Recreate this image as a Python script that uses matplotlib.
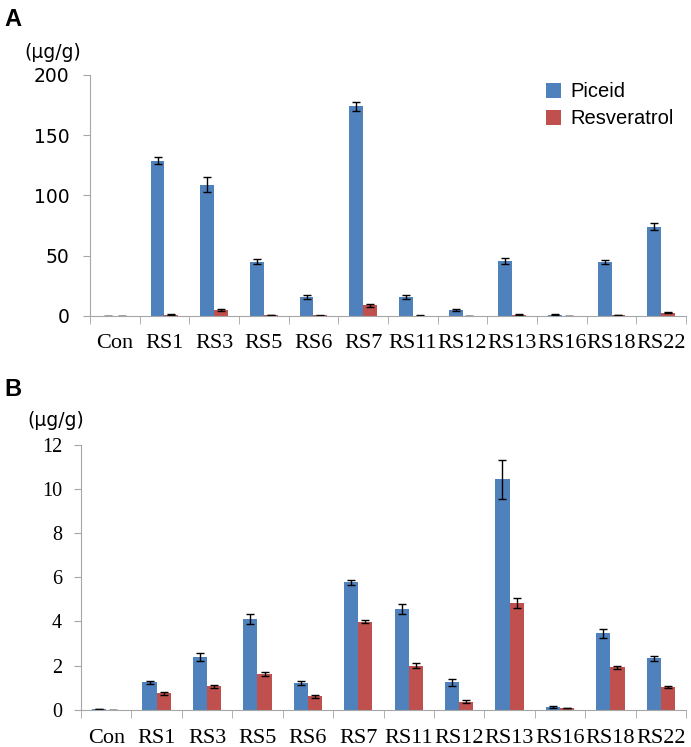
import numpy as np
import matplotlib
matplotlib.use("Agg")
import matplotlib.pyplot as plt

# categorieen
stammen = ["Con", "RS1", "RS3", "RS5", "RS6", "RS7", "RS11", "RS12", "RS13", "RS16", "RS18", "RS22"]

# paneel A
piceid_A = [0, 129, 109, 45, 16, 174, 16, 5, 45.6, 1.0, 44.8, 74]
piceid_A_err = [0, 3, 6, 2, 1.5, 4, 1.5, 0.7, 2.5, 0.3, 1.5, 3]
resv_A = [0, 1.2, 5, 0.7, 0.4, 8.8, 0.3, 0.2, 1.0, 0.1, 0.7, 2.6]
resv_A_err = [0, 0.3, 0.5, 0.2, 0.1, 1.0, 0.1, 0.1, 0.3, 0.05, 0.2, 0.4]

# paneel B
piceid_B = [0.02, 1.24, 2.37, 4.11, 1.2, 5.77, 4.55, 1.24, 10.44, 0.12, 3.46, 2.33]
piceid_B_err = [0, 0.07, 0.18, 0.23, 0.08, 0.12, 0.23, 0.15, 0.87, 0.03, 0.22, 0.12]
resv_B = [0.01, 0.74, 1.07, 1.62, 0.6, 3.99, 2.0, 0.36, 4.82, 0.08, 1.92, 1.03]
resv_B_err = [0, 0.05, 0.07, 0.1, 0.08, 0.07, 0.1, 0.07, 0.23, 0.02, 0.06, 0.05]

blauw = "#4F81BD"
rood = "#C0504D"
grijs = "#A6A6A6"

fig = plt.figure(figsize=(6.91, 7.47), dpi=100)

def paneel(ax, p, pe, r, re, ymax, ystap, tickfont, ticksize, pad, ypad):
    x = np.arange(len(stammen))
    b = 0.28
    ax.bar(x - b / 2, p, b, color=blauw, yerr=pe, capsize=3,
           error_kw=dict(elinewidth=1, capthick=1, ecolor="black"), label="Piceid")
    ax.bar(x + b / 2, r, b, color=rood, yerr=re, capsize=3,
           error_kw=dict(elinewidth=1, capthick=1, ecolor="black"), label="Resveratrol")
    ax.set_xlim(-0.5, len(stammen) - 0.5)
    ax.set_ylim(0, ymax)
    ax.set_yticks(np.arange(0, ymax + 0.001, ystap))
    ax.set_xticks(x)
    ax.set_xticklabels(stammen, family="Liberation Serif", fontsize=16)
    ax.set_xticks(np.arange(-0.5, len(stammen)), minor=True)
    ax.tick_params(axis="x", which="major", length=0, pad=pad)
    ax.tick_params(axis="x", which="minor", length=6, color=grijs)
    ax.tick_params(axis="y", length=5, color=grijs, pad=ypad,
                   labelsize=ticksize, labelfontfamily=tickfont)
    for s in ["top", "right"]:
        ax.spines[s].set_visible(False)
    for s in ["left", "bottom"]:
        ax.spines[s].set_color(grijs)

axA = fig.add_axes([0.1302, 0.577, 0.8626, 0.3226])
paneel(axA, piceid_A, piceid_A_err, resv_A, resv_A_err, 200, 50, "DejaVu Sans", 13.5, 13, 10)
axA.legend(loc="upper left", bbox_to_anchor=(0.735, 1.045), frameon=False,
           handlelength=0.75, handleheight=0.75, handletextpad=0.45, labelspacing=0.4,
           prop={"family": "Liberation Sans", "size": 14.5})

axB = fig.add_axes([0.1172, 0.0499, 0.8756, 0.3544])
paneel(axB, piceid_B, piceid_B_err, resv_B, resv_B_err, 12, 2, "Liberation Serif", 14.5, 14, 8.5)

fig.text(0.006, 0.989, "A", fontsize=17, fontweight="bold", va="top", family="Liberation Sans")
fig.text(0.035, 0.943, "(µg/g)", fontsize=13.5, va="top", family="DejaVu Sans")
fig.text(0.006, 0.494, "B", fontsize=17, fontweight="bold", va="top", family="Liberation Sans")
fig.text(0.040, 0.450, "(µg/g)", fontsize=13.5, va="top", family="DejaVu Sans")

fig.savefig("out.png", dpi=100)
